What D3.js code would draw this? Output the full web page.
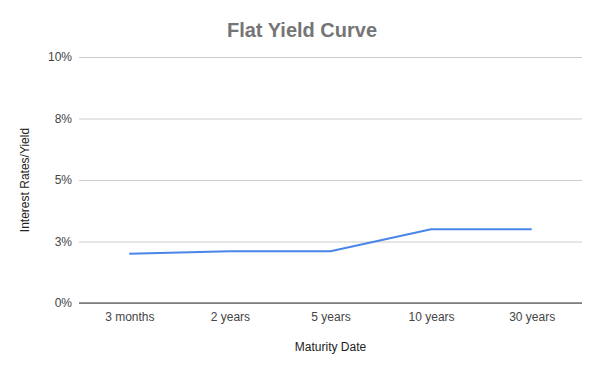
<!DOCTYPE html>
<html>
<head>
<meta charset="utf-8">
<script src="https://cdn.jsdelivr.net/npm/d3@7"></script>
<style>
  body { margin: 0; background: #fff; }
  text { font-family: Arial, "Liberation Sans", sans-serif; }
</style>
</head>
<body>
<div id="chart"></div>
<script>
// data
var maturities = ["3 months", "2 years", "5 years", "10 years", "30 years"];
var yields = [2.0, 2.1, 2.1, 3.0, 3.0];
var yTicks = [0, 2.5, 5, 7.5, 10];
var yTickLabels = ["0%", "3%", "5%", "8%", "10%"];

var W = 600, H = 371;
var margin = {top: 57, right: 18, bottom: 68, left: 79},
  width = W - margin.left - margin.right,
  height = H - margin.top - margin.bottom;

var svg = d3.select("#chart")
  .append("svg")
  .attr("width", W)
  .attr("height", H);

svg.append("rect").attr("width", W).attr("height", H).attr("fill", "#fff");

var g = svg.append("g")
  .attr("transform", "translate(" + margin.left + "," + margin.top + ")");

var x = d3.scalePoint()
  .domain(maturities)
  .range([0, width])
  .padding(0.5);

var y = d3.scaleLinear()
  .domain([0, 10])
  .range([height, 0]);

// gridlines + y labels
var yAxis = g.append("g")
  .call(d3.axisLeft(y)
    .tickValues(yTicks)
    .tickSize(-width)
    .tickPadding(7)
    .tickFormat(function(d, i) { return yTickLabels[i]; }));
yAxis.select(".domain").remove();
yAxis.selectAll(".tick line").attr("stroke", "#cccccc");
yAxis.selectAll(".tick text")
  .attr("fill", "#444")
  .style("font-size", "12px");

// baseline
g.append("line")
  .attr("x1", 0).attr("x2", width)
  .attr("y1", y(0)).attr("y2", y(0))
  .attr("stroke", "#333").attr("stroke-width", 1);

// x labels
var xAxis = g.append("g")
  .attr("transform", "translate(0," + height + ")")
  .call(d3.axisBottom(x).tickSize(0).tickPadding(9));
xAxis.select(".domain").remove();
xAxis.selectAll(".tick text")
  .attr("fill", "#444")
  .style("font-size", "12px");

// the line
g.append("path")
  .datum(yields)
  .attr("fill", "none")
  .attr("stroke", "#4a86e8")
  .attr("stroke-width", 2)
  .attr("stroke-linejoin", "round")
  .attr("d", d3.line()
    .x(function(d, i) { return x(maturities[i]); })
    .y(function(d) { return y(d); }));

// title
svg.append("text")
  .attr("x", 302)
  .attr("y", 37)
  .attr("text-anchor", "middle")
  .attr("fill", "#757575")
  .style("font-size", "20px")
  .style("font-weight", "bold")
  .text("Flat Yield Curve");

// axis titles
svg.append("text")
  .attr("x", margin.left + width / 2)
  .attr("y", 351)
  .attr("text-anchor", "middle")
  .attr("fill", "#222")
  .style("font-size", "12px")
  .text("Maturity Date");

svg.append("text")
  .attr("transform", "translate(29," + (margin.top + height / 2) + ") rotate(-90)")
  .attr("text-anchor", "middle")
  .attr("fill", "#222")
  .style("font-size", "12px")
  .text("Interest Rates/Yield");
</script>
</body>
</html>
